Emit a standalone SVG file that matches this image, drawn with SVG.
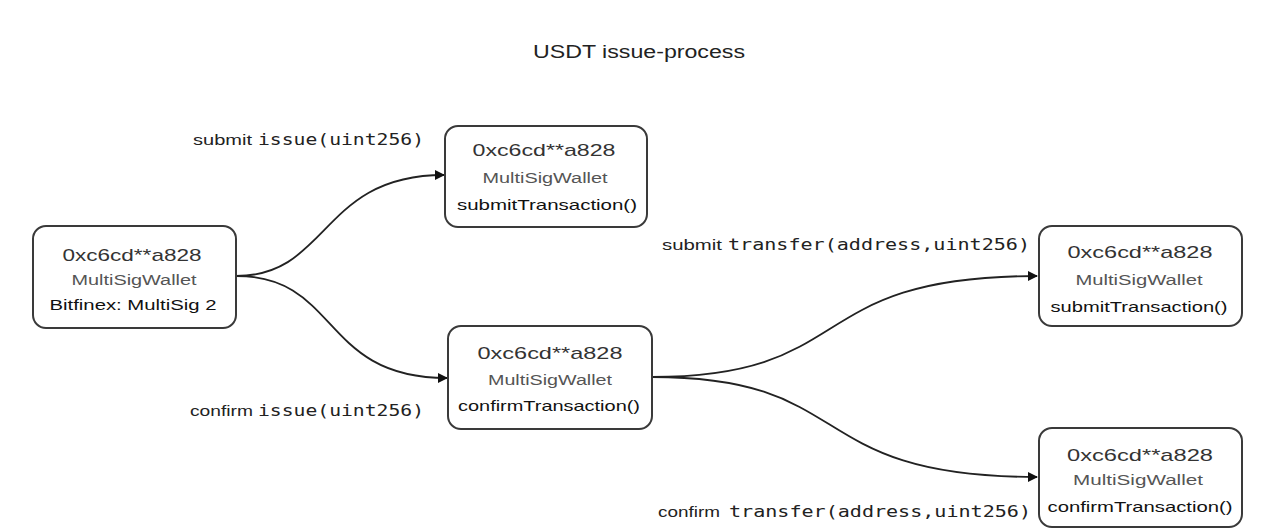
<svg xmlns="http://www.w3.org/2000/svg" width="1283" height="529" viewBox="0 0 1283 529">
<defs>
<style>
.box{fill:#fff;stroke:#3a3a3a;stroke-width:2}
.t1{font-family:"Liberation Sans",Arial,sans-serif;font-size:17px;fill:#333;text-anchor:middle}
.t2{font-family:"Liberation Sans",Arial,sans-serif;font-size:14px;fill:#555;text-anchor:middle}
.t3{font-family:"Liberation Sans",Arial,sans-serif;font-size:15px;fill:#111;text-anchor:middle}
.lab{font-family:"Liberation Sans",Arial,sans-serif;font-size:14px;fill:#222}
.mono{font-family:"DejaVu Sans Mono","Liberation Mono",monospace;font-size:16px;fill:#222}
.title{font-family:"Liberation Sans",Arial,sans-serif;font-size:18px;fill:#222;text-anchor:middle}
.edge{fill:none;stroke:#222;stroke-width:1.8}
</style>
<marker id="arr" viewBox="0 0 10 10" refX="9" refY="5" markerWidth="10" markerHeight="10" markerUnits="userSpaceOnUse" orient="auto">
<path d="M0,0 L10,5 L0,10 z" fill="#111"/>
</marker>
</defs>
<rect width="1283" height="529" fill="#fff"/>
<text class="title" x="639" y="58" textLength="212" lengthAdjust="spacingAndGlyphs">USDT issue-process</text>

<g id="connectors">
<path class="edge" marker-end="url(#arr)" d="M236,276 C330,276 320,175 444,175"/>
<path class="edge" marker-end="url(#arr)" d="M236,276 C340,276 320,378 447,378"/>
<path class="edge" marker-end="url(#arr)" d="M652,377 C860,377 800,276 1037,276"/>
<path class="edge" marker-end="url(#arr)" d="M652,377 C860,377 800,477 1037,477"/>
</g>

<g id="labels">
<text class="lab" x="193" y="145" textLength="59" lengthAdjust="spacingAndGlyphs">submit</text>
<text class="mono" x="258" y="145" textLength="166" lengthAdjust="spacingAndGlyphs">issue(uint256)</text>
<text class="lab" x="190" y="416" textLength="63" lengthAdjust="spacingAndGlyphs">confirm</text>
<text class="mono" x="258" y="416" textLength="166" lengthAdjust="spacingAndGlyphs">issue(uint256)</text>
<text class="lab" x="662" y="250" textLength="60" lengthAdjust="spacingAndGlyphs">submit</text>
<text class="mono" x="728" y="250" textLength="302" lengthAdjust="spacingAndGlyphs">transfer(address,uint256)</text>
<text class="lab" x="658" y="517" textLength="62" lengthAdjust="spacingAndGlyphs">confirm</text>
<text class="mono" x="729" y="517" textLength="302" lengthAdjust="spacingAndGlyphs">transfer(address,uint256)</text>
</g>

<g id="nodeA">
<rect class="box" x="33" y="226" width="203" height="102" rx="13"/>
<text class="t1" x="132" y="261" textLength="139" lengthAdjust="spacingAndGlyphs">0xc6cd**a828</text>
<text class="t2" x="134" y="285" textLength="125" lengthAdjust="spacingAndGlyphs">MultiSigWallet</text>
<text class="t3" x="133" y="310" textLength="167" lengthAdjust="spacingAndGlyphs">Bitfinex: MultiSig 2</text>
</g>

<g id="nodeB">
<rect class="box" x="445" y="126" width="202" height="101" rx="13"/>
<text class="t1" x="544" y="156" textLength="143" lengthAdjust="spacingAndGlyphs">0xc6cd**a828</text>
<text class="t2" x="545" y="183" textLength="125" lengthAdjust="spacingAndGlyphs">MultiSigWallet</text>
<text class="t3" x="547" y="210" textLength="180" lengthAdjust="spacingAndGlyphs">submitTransaction()</text>
</g>

<g id="nodeC">
<rect class="box" x="448" y="326" width="204" height="103" rx="13"/>
<text class="t1" x="550" y="359" textLength="145" lengthAdjust="spacingAndGlyphs">0xc6cd**a828</text>
<text class="t2" x="550" y="385" textLength="124" lengthAdjust="spacingAndGlyphs">MultiSigWallet</text>
<text class="t3" x="549" y="411" textLength="182" lengthAdjust="spacingAndGlyphs">confirmTransaction()</text>
</g>

<g id="nodeD">
<rect class="box" x="1039" y="226" width="203" height="100" rx="13"/>
<text class="t1" x="1140" y="258" textLength="145" lengthAdjust="spacingAndGlyphs">0xc6cd**a828</text>
<text class="t2" x="1139" y="285" textLength="127" lengthAdjust="spacingAndGlyphs">MultiSigWallet</text>
<text class="t3" x="1139" y="312" textLength="177" lengthAdjust="spacingAndGlyphs">submitTransaction()</text>
</g>

<g id="nodeE">
<rect class="box" x="1039" y="428" width="203" height="99" rx="13"/>
<text class="t1" x="1140" y="461" textLength="146" lengthAdjust="spacingAndGlyphs">0xc6cd**a828</text>
<text class="t2" x="1138" y="485" textLength="130" lengthAdjust="spacingAndGlyphs">MultiSigWallet</text>
<text class="t3" x="1140" y="512" textLength="185" lengthAdjust="spacingAndGlyphs">confirmTransaction()</text>
</g>
</svg>
